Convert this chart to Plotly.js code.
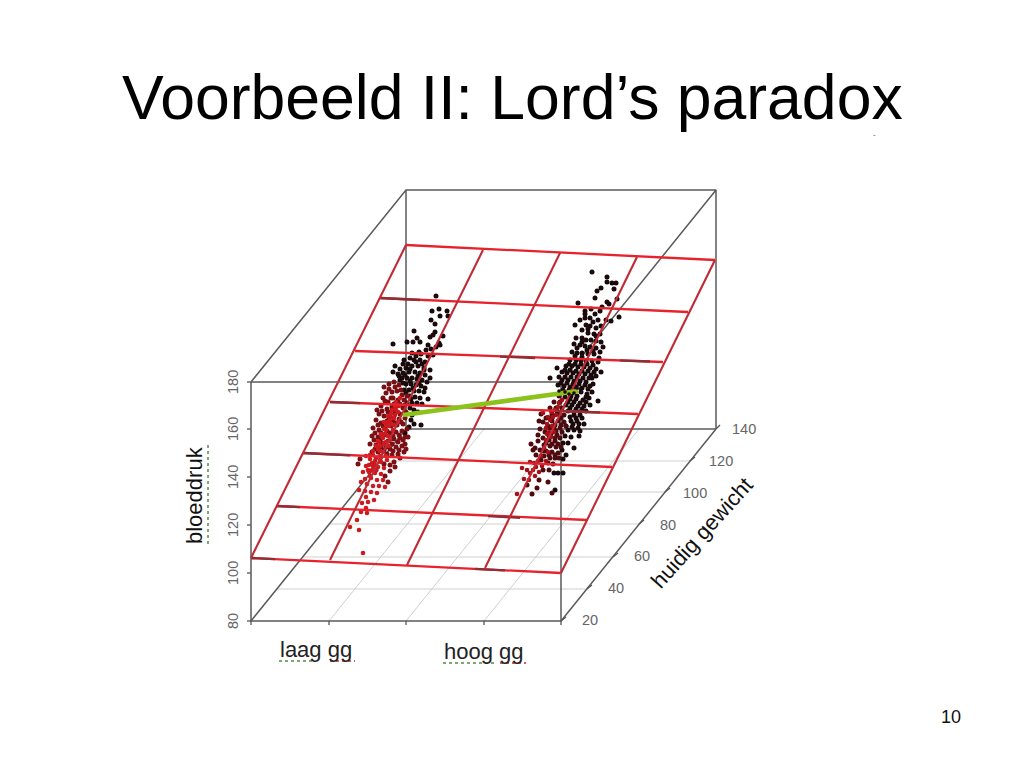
<!DOCTYPE html>
<html><head><meta charset="utf-8">
<script src="https://cdn.plot.ly/plotly-3.0.1.min.js"></script>
<style>html,body{margin:0;padding:0;background:#fff}#c{width:1024px;height:768px}</style>
</head><body><div id="c"></div>
<script>
// Screen-projected readings of the 3D scene (oblique view)
const boxX=[251,561,561,251,251,null,251,406,716,561,null,406,406,null,716,716,null,406,716,null,251,406,null,561,716];
const boxY=[382,382,621,621,382,null,382,190,190,382,null,190,429,null,190,429,null,429,429,null,621,429,null,621,429];
const floorX=[329,484,null,406,561,null,484,639,null,380,690,null,355,665,null,329,639,null,303,613,null,277,587];
const floorY=[621,429,null,621,429,null,621,429,null,461,461,null,492,492,null,524,524,null,557,557,null,589,589];
const planeRowsX=[251,561,null,277,587,null,303,612,null,330,638,null,355,663,null,380,688,null,406,715];
const planeRowsY=[558,573,null,506,520,null,453,467,null,402,414,null,351,362,null,298,312,null,245,260];
const planeColsX=[251,406,null,330,483,null,407,560,null,485,637,null,561,715];
const planeColsY=[558,245,null,560,250,null,565,253,null,568,257,null,573,260];
const planeDarkX=[251,275,null,277,300,null,303,350,null,330,360,null,380,420,null,475,505,null,488,520,null,555,600,null,620,650,null,500,535];
const planeDarkY=[558,559.2,null,506,507.1,null,453,455.3,null,402,403.2,null,298,300,null,568.8,570.3,null,516.2,517.8,null,410.8,412.5,null,360.4,361.5,null,356.6,358];

const leftBlack=[[436,296],[432,311],[439,309],[447,311],[431,320],[435,324],[440,316],[448,316],[414,331],[435,332],[430,337],[433,335],[443,336],[417,338],[413,342],[393,344],[407,342],[420,342],[428,345],[440,345],[436,347],[439,343],[431,349],[426,350],[419,352],[412,353],[416,356],[421,354],[428,356],[433,355],[410,358],[414,360],[420,360],[425,362],[404,360],[408,364],[395,366],[400,369],[406,368],[412,366],[418,366],[424,368],[430,370],[393,372],[398,374],[403,373],[409,372],[415,372],[420,373],[425,375],[430,378],[402,378],[407,378],[412,378],[417,379],[422,380],[427,382],[406,384],[411,384],[416,385],[421,386],[425,388],[404,390],[409,390],[414,391],[419,391],[424,392],[428,399],[410,396],[415,397],[420,398],[412,403],[417,403],[422,404],[421,425],[410,408],[414,410],[418,412],[412,415],[411,420],[414,424],[409,427],[405,433],[403,364],[410,369],[416,362],[422,364],[405,375],[400,380],[410,381],[419,383],[413,388],[406,393],[411,399],[407,403],[403,383],[399,376],[424,370],[418,376]];
const leftDark=[[384,387],[389,384],[394,382],[399,385],[386,393],[392,392],[397,391],[402,395],[393,398],[398,400],[404,400],[388,402],[383,398],[381,406],[387,409],[392,407],[397,406],[403,408],[379,414],[384,416],[390,414],[395,412],[400,414],[406,412],[376,420],[381,423],[387,421],[393,420],[399,419],[405,418],[373,428],[379,430],[385,428],[391,426],[397,425],[403,424],[407,429],[372,436],[378,437],[384,435],[390,433],[396,432],[402,431],[408,437],[370,444],[376,445],[382,443],[388,441],[394,439],[400,438],[405,444],[372,452],[378,452],[384,450],[390,449],[396,447],[402,446],[406,449],[392,455],[398,454],[404,452],[394,462],[400,458],[390,465],[395,467],[384,464],[390,471],[385,476],[388,482],[376,470],[360,459],[358,464],[389,389],[395,387],[401,390],[385,401],[391,398],[407,396],[377,410],[382,411],[388,412],[394,404],[400,404],[405,405],[378,425],[383,426],[389,418],[395,423],[401,422],[375,433],[381,433],[387,431],[393,436],[399,435],[405,437],[374,440],[380,440],[386,447],[392,444],[398,442],[403,440],[375,449],[381,447],[387,454],[393,451],[399,450]];
const leftRed=[[400,398],[396,402],[392,410],[388,416],[384,422],[395,415],[391,424],[386,430],[382,436],[388,436],[393,430],[398,422],[379,442],[384,443],[389,446],[378,449],[373,455],[380,456],[386,456],[375,461],[381,462],[387,460],[370,459],[366,456],[373,466],[378,467],[384,468],[366,466],[363,472],[369,472],[375,473],[381,474],[365,479],[371,478],[377,480],[383,480],[361,482],[367,484],[373,486],[379,486],[385,487],[359,490],[365,491],[371,492],[377,493],[366,497],[362,503],[368,502],[374,500],[366,508],[361,512],[367,513],[357,520],[350,527],[359,530],[363,553],[384,444],[380,451],[376,458],[372,463],[368,470],[392,418],[396,410],[389,426],[385,434],[390,440],[394,425],[398,412],[399,406],[395,407],[391,414],[388,422],[384,429],[381,434],[378,441],[376,446],[373,451],[370,455],[380,446],[383,438],[386,425],[390,420],[394,418],[397,405],[375,465],[372,470],[370,476],[376,470],[380,460],[383,452],[386,442],[369,465]];

const rightBlack=[[592,272],[607,277],[607,282],[612,283],[616,283],[601,288],[597,291],[614,289],[595,298],[578,303],[617,299],[607,302],[609,304],[602,307],[600,311],[585,311],[595,314],[590,318],[585,318],[593,322],[598,320],[619,317],[606,320],[611,321],[601,326],[596,328],[590,326],[586,325],[575,325],[582,330],[588,333],[594,334],[600,334],[576,338],[582,338],[586,340],[591,340],[596,341],[603,347],[601,342],[574,344],[580,345],[585,346],[590,347],[596,348],[600,352],[572,352],[577,353],[582,353],[588,354],[594,354],[599,358],[570,360],[576,360],[581,360],[586,361],[592,361],[598,362],[566,366],[572,366],[578,367],[584,367],[590,368],[596,369],[601,372],[557,368],[562,372],[567,373],[573,373],[579,374],[585,374],[591,375],[596,376],[562,380],[568,380],[574,381],[580,381],[586,382],[592,378],[550,378],[558,385],[564,386],[570,387],[576,387],[582,388],[588,389],[593,384],[566,393],[572,393],[587,394],[592,392],[598,401],[570,399],[576,399],[583,400],[589,398],[566,405],[572,405],[578,406],[584,406],[590,405],[568,411],[574,412],[580,412],[586,411],[582,418],[576,418],[570,417],[584,424],[579,424],[573,424],[568,430],[574,430],[580,431],[579,436],[565,436],[571,437],[563,443],[568,443],[574,448],[562,450],[566,455],[563,459],[554,473],[558,473],[563,473],[555,490],[588,329],[582,342],[577,348],[593,351],[587,350],[582,357],[575,356],[569,364],[575,364],[581,364],[587,364],[593,365],[565,370],[570,370],[576,371],[582,371],[588,371],[594,372],[559,377],[565,377],[571,377],[577,377],[583,378],[589,378],[561,383],[567,383],[573,384],[579,384],[585,385],[590,386],[563,390],[569,390],[575,390],[581,392],[565,397],[571,396],[577,396],[586,397],[568,402],[574,402],[580,403],[586,402],[570,408],[576,409],[582,409],[574,415],[580,415],[577,421],[571,421],[566,426],[572,427],[578,428],[585,314],[591,309],[580,320],[596,336]];
const rightDark=[[559,396],[554,402],[560,402],[550,408],[556,408],[562,408],[552,414],[558,414],[564,415],[546,418],[552,421],[558,421],[564,422],[548,426],[554,428],[560,428],[566,426],[541,414],[543,422],[540,429],[545,432],[551,434],[557,435],[539,421],[538,435],[543,438],[549,440],[555,441],[538,441],[544,445],[550,446],[556,447],[540,450],[546,451],[552,452],[558,453],[544,456],[550,458],[555,458],[548,463],[553,464],[543,470],[549,470],[539,480],[548,482],[537,488],[532,494],[552,493],[527,485],[541,460],[531,444],[535,448],[533,450],[536,455],[557,411],[552,418],[561,418],[555,425],[561,425],[562,432],[556,431],[550,428],[560,438],[555,438],[549,436],[546,443],[552,444],[558,444],[561,447],[543,451],[549,455],[555,455],[559,458]];
const rightRed=[[566,392],[562,400],[558,407],[556,415],[551,411],[548,417],[553,417],[547,424],[543,413],[552,426],[549,432],[554,432],[546,440],[551,437],[544,448],[548,452],[541,456],[538,461],[546,461],[534,463],[530,462],[536,467],[542,466],[530,473],[535,476],[539,472],[524,479],[529,480],[517,494],[527,470],[522,468],[533,470],[559,403],[555,410],[550,420],[546,428],[547,434],[552,412]];
const greenX=[403,578], greenY=[415,391];
const overGreen=[[559,391],[565,392],[569,394],[577,388],[574,393],[580,389]];

const xs=a=>a.map(p=>p[0]), ys=a=>a.map(p=>p[1]);
const line=(x,y,c,w,dash)=>({type:'scatter',mode:'lines',x,y,hoverinfo:'skip',connectgaps:false,line:{color:c,width:w,dash:dash||'solid'}});
const pts=(a,c,s)=>({type:'scatter',mode:'markers',x:xs(a),y:ys(a),hoverinfo:'skip',marker:{color:c,size:s,line:{width:0}}});

const traces=[
 line(floorX,floorY,'#cfcfcf',1),
 line(boxX,boxY,'#5a5a5a',1.5),
 pts(leftBlack,'#1a0a0c',5),
 pts(rightBlack,'#1a0a0c',5),
 pts(rightDark,'#4d0b10',5),
 pts(leftDark,'#7a0f14',5),
 pts(rightRed,'#a01218',4.6),
 pts(leftRed,'#cc1a1e',4.6),
 line(planeRowsX,planeRowsY,'#e8222c',2.3),
 line(planeDarkX,planeDarkY,'#8a3036',2.3),
 line(planeColsX,planeColsY,'#c02a34',2.1),
 line(greenX,greenY,'#8cc21c',4.6),
 pts(overGreen,'#1a0a0c',3.6),
];

// wavy spell-check underlines drawn as dotted strokes
traces.push(line([208,208],[445,544],'#7da873',2,'dot'));
traces.push(line([279,312],[661,661],'#7da873',2,'dot'));
traces.push(line([330,355],[661,661],'#d06060',2,'dot'));
traces.push(line([443,496],[663,663],'#7da873',2,'dot'));
traces.push(line([500,526],[663,663],'#d06060',2,'dot'));

const leftTicks=['80','100','120','140','160','180'];
const leftTickY=[621,573,525,477,429,382];
const depthTicks=['20','40','60','80','100','120','140'];
const depthTickX=[590,616,642,668,695,721,744];
const depthTickY=[620,588,556,525,493,461,429];
const tickMarkX=[247,251,null,247,251,null,247,251,null,247,251,null,247,251,null,247,251,null,561,566,null,587,592,null,613,618,null,639,644,null,665,670,null,690,695,null,716,720,null,251,251,null,329,329,null,406,406,null,484,484,null,561,561];
const tickMarkY=[621,621,null,573,573,null,525,525,null,477,477,null,429,429,null,382,382,null,621,617,null,589,585,null,557,553,null,524,520,null,492,488,null,461,457,null,429,425,null,621,625,null,621,625,null,621,625,null,621,625,null,621,625];
traces.push(line(tickMarkX,tickMarkY,'#555555',1.3));

const T=(text,x,y,size,color,angle)=>({text,x,y,xref:'x',yref:'y',showarrow:false,xanchor:'center',yanchor:'middle',
  textangle:angle||0,font:{family:'Liberation Sans, Arial, sans-serif',size,color}});
const annotations=[
 T('Voorbeeld II: Lord’s paradox',512,97,62.5,'#000000'),
 T('bloeddruk',194,495,22,'#111111',-90),
 T('laag gg',316,649,22,'#222222'),
 T('hoog gg',484,651,22,'#222222'),
 T('huidig gewicht',701,533,22,'#111111',-48),
 T('10',951,717,18,'#111111'),
 T('-',874,134,8,'#555555'),
];
leftTicks.forEach((t,i)=>annotations.push(T(t,233,leftTickY[i],14.5,'#666666',-90)));
depthTicks.forEach((t,i)=>annotations.push(T(t,depthTickX[i],depthTickY[i],14.5,'#666666')));

Plotly.newPlot('c',traces,{
 width:1024,height:768,margin:{l:0,r:0,t:0,b:0},paper_bgcolor:'#fff',plot_bgcolor:'#fff',showlegend:false,
 xaxis:{range:[0,1024],visible:false,fixedrange:true},
 yaxis:{range:[768,0],visible:false,fixedrange:true},
 annotations
},{staticPlot:true,displayModeBar:false});
</script></body></html>
